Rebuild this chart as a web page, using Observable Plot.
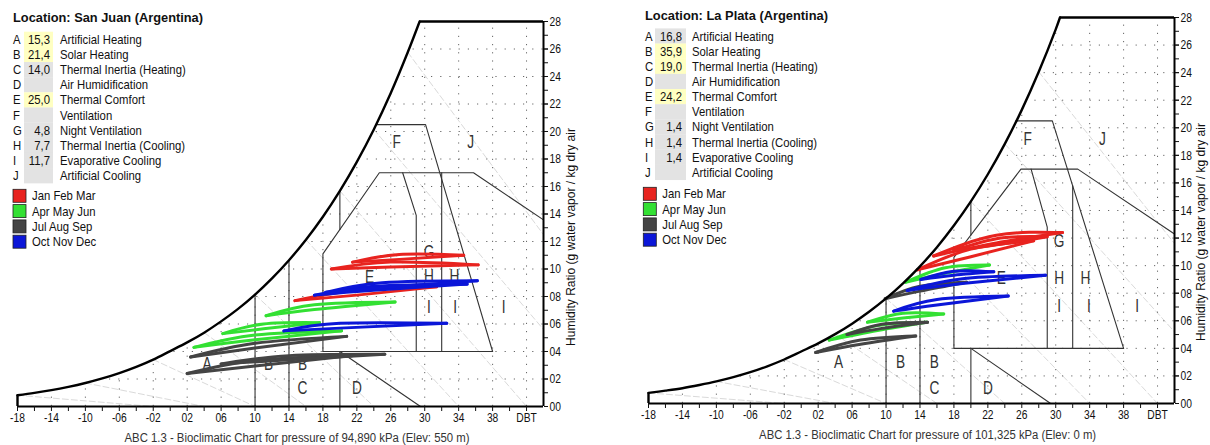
<!DOCTYPE html>
<html><head><meta charset="utf-8">
<script src="https://cdn.jsdelivr.net/npm/d3@7"></script>
<script src="https://cdn.jsdelivr.net/npm/@observablehq/plot@0.6"></script>
<style>
body{margin:0;background:#fff;width:1210px;height:445px;overflow:hidden;position:relative;font-family:"Liberation Sans",Arial,sans-serif}
#left{position:absolute;left:0;top:0;width:605px;height:445px}
#right{position:absolute;left:600px;top:0;width:610px;height:445px}
</style></head><body>
<div id="left"></div><div id="right"></div>
<script>
// ---------- legend data ----------
const zoneLetters = ["A","B","C","D","E","F","G","H","I","J"];
const zoneNames = ["Artificial Heating","Solar Heating","Thermal Inertia (Heating)","Air Humidification","Thermal Comfort","Ventilation","Night Ventilation","Thermal Inertia (Cooling)","Evaporative Cooling","Artificial Cooling"];
const sjValues = ["15,3","21,4","14,0","","25,0","","4,8","7,7","11,7",""];
const sjHighlight = [true,true,false,false,true,false,false,false,false,false];
const lpValues = ["16,8","35,9","19,0","","24,2","","1,4","1,4","1,4",""];
const lpHighlight = [false,true,true,false,true,false,false,false,false,false];
const periodNames = ["Jan Feb Mar","Apr May Jun","Jul Aug Sep","Oct Nov Dec"];
const periodColors = ["#e8231f","#33e033","#444444","#0b16d8"];
const months = ["Jan","Feb","Mar","Apr","May","Jun","Jul","Aug","Sep","Oct","Nov","Dec"];
const monthPeriod = [0,0,0,1,1,1,2,2,2,3,3,3];

// ---------- axis ticks ----------
const xTickValues = [-18,-14,-10,-6,-2,2,6,10,14,18,22,26,30,34,38,42];
const xTickLabels = ["-18","-14","-10","-06","-02","02","06","10","14","18","22","26","30","34","38","DBT"];
const yTickValues = [0,2,4,6,8,10,12,14,16,18,20,22,24,26,28];
const yTickLabels = ["00","02","04","06","08","10","12","14","16","18","20","22","24","26","28"];
const xGridValues = [-14,-10,-6,-2,2,6,10,14,18,22,26,30,34,38,42];
const yGridValues = [2,4,6,8,10,12,14,16,18,20,22,24,26];

// ---------- saturation curves (DBT °C, g/kg) ----------
const sjSatT = [-18,-16,-14,-12,-10,-8,-6,-4,-2,0,2,4,6,8,10,12,14,16,18,20,22,24,26,28,29.4];
const sjSatW = [0.82,0.99,1.19,1.43,1.71,2.04,2.43,2.88,3.41,4.03,4.66,5.37,6.19,7.10,8.14,9.32,10.64,12.13,13.80,15.68,17.79,20.15,22.80,25.76,28.0];
const lpSatT = [-18,-16,-14,-12,-10,-8,-6,-4,-2,0,2,4,6,8,10,12,14,16,18,20,22,24,26,28,30,30.5];
const lpSatW = [0.77,0.93,1.11,1.34,1.60,1.91,2.27,2.70,3.19,3.77,4.36,5.03,5.79,6.65,7.62,8.72,9.95,11.34,12.91,14.66,16.63,18.83,21.30,24.06,27.14,28.0];

// ---------- faint background lines (constant wet-bulb) ----------
const sjFaint = [
  [[-18,0.82],[-2,0]], [[-10,1.71],[4,0]], [[-2,3.41],[10,0]], [[4,5.37],[16,0]], [[10,8.14],[24,0]],
  [[16,12.13],[34,0]], [[20,15.68],[42,0]], [[24,20.15],[44,5.6]], [[28,25.76],[44,12.5]]
];
const lpFaint = [
  [[-18,0.77],[-2,0]], [[-10,1.60],[4,0]], [[-2,3.19],[10,0]], [[4,5.03],[16,0]], [[10,7.62],[24,0]],
  [[16,11.34],[34,0]], [[20,14.66],[42,0]], [[24,18.83],[44,5.2]], [[28,24.06],[44,11.6]]
];

// ---------- zone boundary polylines [DBT, w] ----------
const sjZones = [
  [[10,0],[10,8.14]],
  [[14,0],[14,10.64]],
  [[20,0],[20,4]],
  [[20,4],[29.5,0]],
  [[18,4],[38,4]],
  [[18,4],[18,11.1],[24.65,17],[35.75,17],[44,13.57]],
  [[20,12.87],[20,15.68]],
  [[29,4],[29,13.9],[27.4,17]],
  [[32,4],[32,17]],
  [[24.25,20.5],[30.1,20.5],[38,4]]
];
const lpZones = [
  [[10,0],[10,7.62]],
  [[14,0],[14,9.95]],
  [[20,0],[20,4]],
  [[20,4],[29.4,0]],
  [[18,4],[38,4]],
  [[18,4],[18,10.6],[25.9,17],[32.6,17],[44,12.3]],
  [[20,12.22],[20,14.66]],
  [[29,4],[29,12.8],[27.1,17]],
  [[32,4],[32,15.8]],
  [[25.3,20.5],[29.6,20.5],[38,4]]
];
const sjZoneLabelText = ["F","J","G","H","H","I","I","I","E","A","B","B","C","D"];
const sjZoneLabelT = [26.7,35.4,30.5,30.5,33.5,30.5,33.6,39.3,23.5,4.35,11.6,15.6,15.6,22];
const sjZoneLabelW = [19.2,19.2,11.2,9.45,9.45,7.2,7.2,7.2,9.4,3.1,3.1,3.1,1.3,1.3];
const lpZoneLabelText = ["F","J","G","H","H","I","I","I","E","A","B","B","C","D"];
const lpZoneLabelT = [26.7,35.5,30.4,30.4,33.5,30.4,33.9,39.6,23.6,4.4,11.7,15.7,15.7,22];
const lpZoneLabelW = [19.2,19.2,11.75,9.07,9.07,7.05,7.05,7.05,9.1,3.0,3.0,3.0,1.1,1.1];

// ---------- monthly daily-cycle loops (left end, mid upper/lower, right end) ----------
const sjTL = [19.0,21.5,14.7,11.3,6.2,2.8,2.0,6.0,2.4,13.4,17.0,18.3];
const sjWL = [10.0,10.5,7.7,6.6,5.3,4.3,2.4,3.1,3.6,5.5,8.1,8.3];
const sjTM = [26,27,22,17,11,10,10,14,10,20,24,25];
const sjWU = [10.5,11.05,8.45,7.4,6.0,5.2,3.35,3.7,4.6,6.05,8.75,9.0];
const sjWD = [10.15,10.7,8.1,7.05,5.65,4.85,2.95,3.4,4.25,5.7,8.45,8.65];
const sjTR = [36.3,34.6,31.4,26.5,17.6,20.2,21.5,25.3,20.8,32.6,35.0,36.2];
const sjWR = [10.3,11.0,8.7,7.6,6.1,5.5,3.7,3.8,5.1,6.05,8.9,9.15];

const lpTL = [15.6,18.0,13.7,12.3,7.8,3.3,1.7,5.4,9.9,10.9,12.5,14.1];
const lpWL = [10.7,11.1,9.7,8.8,5.9,4.6,3.7,5.0,7.6,6.7,8.2,9.0];
const lpTM = [23,23.5,20,17,12,9,7,9.5,14,16,19,18];
const lpWU = [12.2,12.0,11.2,9.85,6.55,5.65,4.6,5.75,8.5,7.55,9.05,9.6];
const lpWD = [11.65,11.55,10.65,9.45,6.2,5.3,4.3,5.45,8.15,7.15,8.7,9.3];
const lpTR = [30.8,29.0,27.4,22.2,16.8,14.8,13.5,14.9,19.5,24.4,28.8,22.7];
const lpWR = [12.4,12.1,11.8,10.05,6.5,5.9,4.9,5.9,8.8,7.8,9.3,9.55];

const xLabelMap = new Map(xTickValues.map((v,i)=>[v,xTickLabels[i]]));
const yLabelMap = new Map(yTickValues.map((v,i)=>[v,yTickLabels[i]]));

function chart(o){
  const curveRows = o.satT.map((t,i)=>({t, w:o.satW[i]}));
  const lineRows = [];
  o.zones.forEach((pl,k)=>pl.forEach(([t,w])=>lineRows.push({t,w,k})));
  const faintRows = [];
  o.faint.forEach((pl,k)=>pl.forEach(([t,w])=>faintRows.push({t,w,k})));
  const labelRows = o.lblText.map((s,i)=>({s, t:o.lblT[i], w:o.lblW[i]}));
  const monthRows = [];
  months.forEach((m,i)=>{
    const c = periodColors[monthPeriod[i]];
    [[o.WU,"u"],[o.WD,"d"]].forEach(([arr,s])=>{
      monthRows.push({t:o.TL[i], w:o.WL[i], z:m+s, c});
      monthRows.push({t:o.TM[i], w:arr[i], z:m+s, c});
      monthRows.push({t:o.TR[i], w:o.WR[i], z:m+s, c});
    });
  });
  const last = o.satT.length-1;
  return Plot.plot({
    width:o.width, height:445,
    marginLeft:o.ml, marginRight:o.mr, marginTop:o.mt, marginBottom:o.mb,
    x:{domain:[-18,44], label:null},
    y:{domain:[0,28], label:null},
    color:{type:"identity"},
    style:{fontFamily:"'Liberation Sans', Arial, sans-serif", fontSize:"13.5px", color:"#111", background:"white", overflow:"visible"},
    marks:[
      Plot.line(faintRows, {x:"t", y:"w", z:"k", stroke:"#dadada", strokeWidth:1, strokeDasharray:"6,3"}),
      Plot.ruleX(xGridValues, {y1:0, y2:28, stroke:"#666", strokeDasharray:"1.2,7"}),
      Plot.ruleY(yGridValues, {x1:-18, x2:44, stroke:"#666", strokeDasharray:"1.2,8"}),
      Plot.areaY(curveRows, {x:"t", y1:"w", y2:28, fill:"white", curve:"catmull-rom"}),
      Plot.line(lineRows, {x:"t", y:"w", z:"k", stroke:"#333", strokeWidth:1.1}),
      Plot.text(labelRows, {x:"t", y:"w", text:"s", fontSize:18, fill:"#333"}),
      Plot.line(monthRows, {x:"t", y:"w", z:"z", stroke:"c", strokeWidth:3, curve:"natural"}),
      Plot.line(curveRows, {x:"t", y:"w", stroke:"black", strokeWidth:2.4, curve:"catmull-rom"}),
      Plot.ruleY([28], {x1:o.satT[last], x2:44, stroke:"black", strokeWidth:2.4}),
      Plot.ruleX([-18], {y1:0, y2:o.satW[0], stroke:"black", strokeWidth:2.4}),
      Plot.ruleY([0], {x1:-18, x2:44, stroke:"black", strokeWidth:2}),
      Plot.ruleX([44], {y1:0, y2:28, stroke:"black", strokeWidth:2}),
      Plot.axisX({ticks:d3.range(-18,43,2), tickSize:5, tickFormat:()=>"", label:null}),
      Plot.axisX({ticks:xTickValues, tickSize:0, tickPadding:6, tickFormat:d=>xLabelMap.get(d), label:null}),
      Plot.axisY({anchor:"right", ticks:d3.range(0,29,1), tickSize:4, tickFormat:()=>"", label:null}),
      Plot.axisY({anchor:"right", ticks:yTickValues, tickSize:4, tickPadding:2, tickFormat:d=>yLabelMap.get(d), label:null})
    ]
  });
}

function decorate(svgEl, L){
  const svg = d3.select(svgEl);
  const g = svg.append("g").attr("font-family","'Liberation Sans', Arial, sans-serif").attr("fill","#111").attr("text-anchor","start");
  g.append("text").attr("x",L.x0).attr("y",L.titleY).attr("font-weight","bold").attr("font-size",13)
    .attr("textLength",L.titleLen).attr("lengthAdjust","spacingAndGlyphs").text(L.title);
  zoneLetters.forEach((z,i)=>{
    const cy = L.rowY + 15.15*i;
    g.append("rect").attr("x",L.boxX).attr("y",cy-7.6).attr("width",L.boxW).attr("height",15.3)
      .attr("fill", L.hi[i] ? "#ffffc2" : "#e3e3e3");
    g.append("text").attr("x",L.x0).attr("y",cy).attr("dy","0.35em").attr("font-size",13).attr("data-sq",0.87).text(z);
    if (L.vals[i]) g.append("text").attr("x",L.valX).attr("y",cy).attr("dy","0.35em").attr("text-anchor","end").attr("font-size",13).attr("data-sq",0.87).text(L.vals[i]);
    g.append("text").attr("x",L.nameX).attr("y",cy).attr("dy","0.35em").attr("font-size",13).attr("data-sq",0.87).text(zoneNames[i]);
  });
  periodNames.forEach((p,i)=>{
    const y = L.sqY + 15.3*i;
    g.append("rect").attr("x",L.sqX).attr("y",y).attr("width",13).attr("height",13).attr("fill",periodColors[i]).attr("stroke","#222").attr("stroke-width",0.8);
    g.append("text").attr("x",L.sqX+19).attr("y",y+6.5).attr("dy","0.35em").attr("font-size",13).attr("data-sq",0.87).text(p);
  });
  g.append("text").attr("transform",`translate(${L.ytX},${L.ytY}) rotate(-90)`).attr("text-anchor","middle").attr("dy","0.35em")
    .attr("font-size",12.5).attr("textLength",218).attr("lengthAdjust","spacingAndGlyphs")
    .text("Humidity Ratio (g water vapor / kg dry air");
  g.append("text").attr("x",L.capX).attr("y",L.capY).attr("text-anchor","middle").attr("font-size",12.5)
    .attr("fill","#333").attr("textLength",L.capLen).attr("lengthAdjust","spacingAndGlyphs").text(L.caption);
}

function squeeze(svgEl){
  svgEl.querySelectorAll("text").forEach(t=>{
    if (t.hasAttribute("textLength")) return;
    if (!t.textContent) return;
    const f = +(t.getAttribute("data-sq") || 0.76);
    const len = t.getComputedTextLength();
    if (len>0){ t.setAttribute("textLength", len*f); t.setAttribute("lengthAdjust","spacingAndGlyphs"); }
  });
}

const leftSvg = chart({width:605, ml:17, mr:62, mt:21, mb:39, satT:sjSatT, satW:sjSatW, zones:sjZones, faint:sjFaint,
  lblText:sjZoneLabelText, lblT:sjZoneLabelT, lblW:sjZoneLabelW,
  TL:sjTL, WL:sjWL, TM:sjTM, WU:sjWU, WD:sjWD, TR:sjTR, WR:sjWR});
document.getElementById("left").append(leftSvg);
decorate(leftSvg, {x0:13, titleY:21.5, titleLen:190, title:"Location: San Juan (Argentina)",
  rowY:39.3, boxX:24, boxW:29, valX:50, nameX:60, hi:sjHighlight, vals:sjValues,
  sqX:13, sqY:189.3, ytX:571, ytY:237, capX:297, capY:442, capLen:345,
  caption:"ABC 1.3 - Bioclimatic Chart for pressure of 94,890 kPa (Elev: 550 m)"});
squeeze(leftSvg);

const rightSvg = chart({width:610, ml:48, mr:36, mt:17, mb:42, satT:lpSatT, satW:lpSatW, zones:lpZones, faint:lpFaint,
  lblText:lpZoneLabelText, lblT:lpZoneLabelT, lblW:lpZoneLabelW,
  TL:lpTL, WL:lpWL, TM:lpTM, WU:lpWU, WD:lpWD, TR:lpTR, WR:lpWR});
document.getElementById("right").append(rightSvg);
decorate(rightSvg, {x0:45, titleY:19.5, titleLen:183, title:"Location: La Plata (Argentina)",
  rowY:36, boxX:55, boxW:31, valX:82, nameX:92, hi:lpHighlight, vals:lpValues,
  sqX:43.3, sqY:187.3, ytX:601, ytY:232, capX:327.6, capY:439, capLen:337,
  caption:"ABC 1.3 - Bioclimatic Chart for pressure of 101,325 kPa (Elev: 0 m)"});
squeeze(rightSvg);
</script>
</body></html>
